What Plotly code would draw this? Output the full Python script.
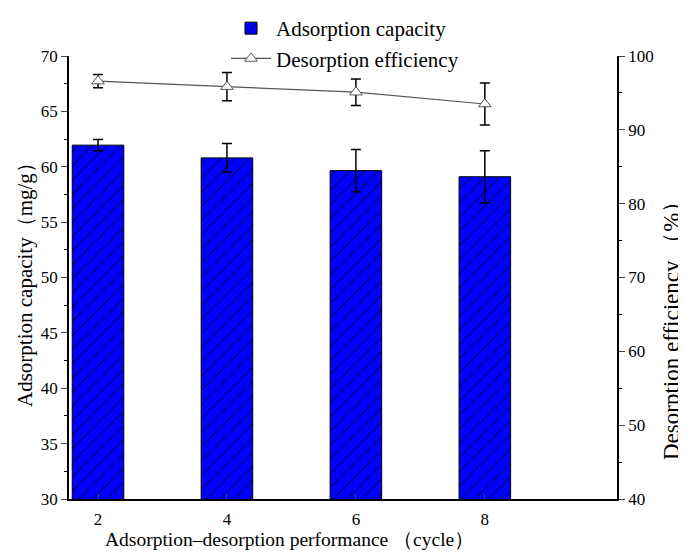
import plotly.graph_objects as go

cycles = [2, 4, 6, 8]
capacity = [61.95, 60.8, 59.65, 59.1]
capacity_err = [0.5, 1.3, 1.9, 2.35]
efficiency = [96.6, 95.85, 95.1, 93.5]
efficiency_err = [0.9, 1.9, 1.8, 2.85]

FONT = "Times New Roman, Liberation Serif, DejaVu Serif, serif"
W, H = 678, 544
OFF = 8  # page body margin

fig = go.Figure()
fig.add_trace(go.Bar(
    x=cycles, y=capacity, width=0.8, name="Adsorption capacity",
    marker=dict(color="#0000FF", line=dict(color="black", width=1),
                pattern=dict(shape="/", fgcolor="black", bgcolor="#0000FF", size=10,
                             solidity=0.09, fgopacity=1)),
    error_y=dict(type="data", array=capacity_err, color="black", thickness=1.5, width=5),
))
fig.add_trace(go.Scatter(
    x=cycles, y=efficiency, yaxis="y2", name="Desorption efficiency",
    mode="lines+markers",
    line=dict(color="#555555", width=1.2),
    marker=dict(symbol="triangle-up", size=11, color="white", line=dict(color="#555555", width=1)),
    error_y=dict(type="data", array=efficiency_err, color="black", thickness=1.5, width=5),
))

L, T, PW, PH = 69 - OFF, 56 - OFF, 548, 443
fig.update_layout(
    width=W, height=H,
    margin=dict(l=L, r=W - L - PW, t=T, b=H - T - PH, autoexpand=False),
    paper_bgcolor="white", plot_bgcolor="white",
    font=dict(family=FONT, size=17, color="black"),
    showlegend=True,
    legend=dict(x=(226 - OFF) / W, y=1.0, xref="container", yref="container",
                xanchor="left", yanchor="top",
                font=dict(family=FONT, size=21), bgcolor="rgba(0,0,0,0)",
                tracegroupgap=0, itemwidth=40),
    xaxis=dict(range=[1.55, 10.05], tickvals=cycles, ticks="inside", ticklen=5,
               showline=True, linecolor="black", linewidth=1.5, showgrid=False, zeroline=False,
               automargin=False, tickfont=dict(family=FONT, size=17), ticklabelstandoff=4),
    yaxis=dict(range=[30, 70], dtick=5, ticks="outside", ticklen=6,
               minor=dict(dtick=2.5, ticks="outside", ticklen=3, tickcolor="black"),
               showline=True, linecolor="black", linewidth=1.5, showgrid=False, zeroline=False,
               automargin=False, tickfont=dict(family=FONT, size=17)),
    yaxis2=dict(range=[40, 100], dtick=10, ticks="outside", ticklen=6, overlaying="y", side="right",
                minor=dict(dtick=5, ticks="outside", ticklen=3, tickcolor="black"),
                showline=True, linecolor="black", linewidth=1.5, showgrid=False, zeroline=False,
                automargin=False, tickfont=dict(family=FONT, size=17)),
    annotations=[
        dict(text="Adsorption–desorption performance （cycle）", xref="paper", yref="paper",
             x=(289 - 69) / PW, y=(499 - 539) / PH, xanchor="center", yanchor="middle",
             showarrow=False, font=dict(family=FONT, size=19.5)),
        dict(text="Adsorption capacity（mg/g）", xref="paper", yref="paper",
             x=(25 - 69) / PW, y=(499 - 280) / PH, xanchor="center", yanchor="middle",
             textangle=-90, showarrow=False, font=dict(family=FONT, size=21)),
        dict(text="Desorption efficiency （%）", xref="paper", yref="paper",
             x=(671 - 69) / PW, y=(499 - 325) / PH, xanchor="center", yanchor="middle",
             textangle=-90, showarrow=False, font=dict(family=FONT, size=23)),
    ],
)

fig.write_html("out.html")
